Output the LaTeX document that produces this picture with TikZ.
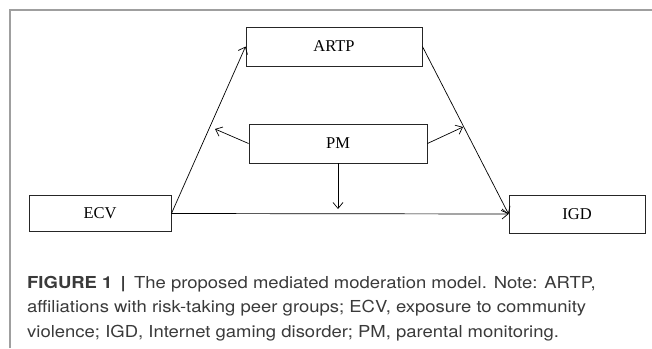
\documentclass[tikz,border=0pt]{standalone}
\usepackage{fontspec}
\setmainfont{Liberation Serif}
\newfontfamily\capfont{TeX Gyre Heros}
\usetikzlibrary{arrows.meta}
\definecolor{capgray}{HTML}{3A3A3A}
\newcommand{\capline}[1]{\scalebox{1.12}[1]{#1}}
\tikzset{
  box/.style={draw=black!85, line width=0.9pt, inner sep=0pt, font=\fontsize{16.5}{18}\selectfont},
  link/.style={line width=0.7pt, -{Straight Barb[length=6pt,width=10pt,line width=0.7pt]}},
  captext/.style={anchor=base west, inner sep=0pt, text=capgray, font=\capfont\fontsize{16.5}{19}\selectfont}
}
\begin{document}
\begin{tikzpicture}[x=1pt,y=-1pt]
\useasboundingbox (0,0) rectangle (652,348);
% frame
\draw[gray!75, line width=1.3pt] (10,348) -- (10,10) -- (652,10);
% boxes
\node[box, minimum width=176pt, minimum height=39pt] (artp) at (334,46.5) {ARTP};
\node[box, minimum width=178pt, minimum height=39pt] (pm) at (338,143.5) {PM};
\node[box, minimum width=142pt, minimum height=36pt] (ecv) at (100,213.5) {ECV};
\node[box, minimum width=136pt, minimum height=38pt] (igd) at (577,214) {IGD};
% target points
\coordinate (lt) at (215,129);
\coordinate (rt) at (463,127);
\coordinate (mt) at (338,209);
% connectors
\draw[link] (ecv.east) -- (artp.west);
\draw[link] (artp.east) -- (igd.west);
\draw[link] (ecv.east) -- (igd.west);
\draw[link] (pm.south -| mt) -- (mt);
\draw[link] (pm.west) -- (lt);
\draw[link] (pm.east) -- (rt);
% caption
\node[captext] (c1) at (27,288) {\capline{\textbf{FIGURE 1 \,|}\, The proposed mediated moderation model. Note: ARTP,}};
\node[captext] (c2) at (27,312.5) {\capline{affiliations with risk-taking peer groups; ECV, exposure to community}};
\node[captext] (c3) at (27,337) {\capline{violence; IGD, Internet gaming disorder; PM, parental monitoring.}};
\end{tikzpicture}
\end{document}
